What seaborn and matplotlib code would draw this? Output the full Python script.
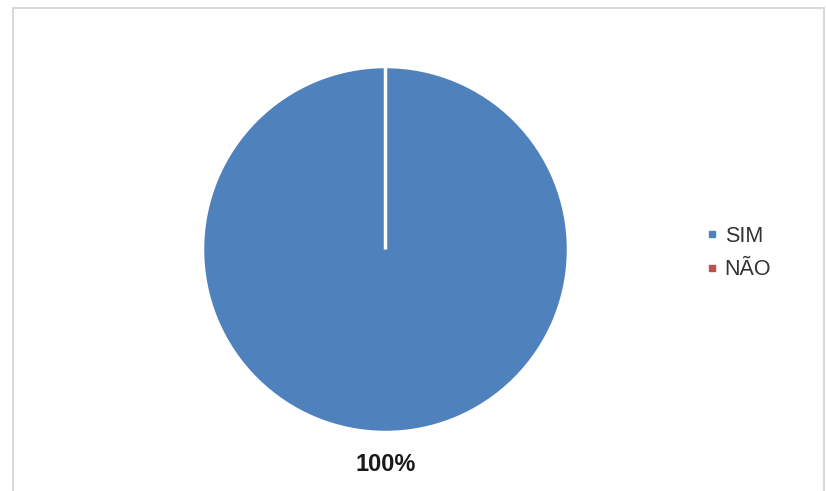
import matplotlib
matplotlib.use("Agg")
import matplotlib.pyplot as plt
from matplotlib.lines import Line2D
from matplotlib.patches import Rectangle
import seaborn as sns

categories = ["SIM", "NÃO"]
values = [100, 0]
colors = ["#4F81BD", "#C0504D"]

sns.set_style("white")
plt.rcParams["font.family"] = ["Liberation Sans", "DejaVu Sans"]
palette = sns.color_palette(colors)

W, H = 826, 491
fig = plt.figure(figsize=(W / 100, H / 100), dpi=100)

# chart area frame
fig.patches.append(Rectangle((13 / W, -0.05), (824 - 13) / W, (H - 8) / H + 0.05,
                             transform=fig.transFigure, fill=False,
                             edgecolor="#D9D9D9", linewidth=1.5))

cx, cy, r = 385.5, 249.5, 183
ax = fig.add_axes([(cx - r) / W, (H - cy - r) / H, 2 * r / W, 2 * r / H])
ax.pie(values, colors=palette, startangle=90, counterclock=False,
       wedgeprops=dict(edgecolor="white", linewidth=2.5),
       autopct=lambda p: f"{p:.0f}%" if p > 0 else "",
       pctdistance=1.175,
       textprops=dict(fontsize=17, fontweight="bold", color="#1a1a1a"))
ax.set_xlim(-1, 1)
ax.set_ylim(-1, 1)
ax.set_aspect("equal")
ax.axis("off")

handles = [Line2D([0], [0], marker="s", linestyle="none", markersize=5,
                  markerfacecolor=c, markeredgecolor=c) for c in palette]
fig.legend(handles, categories, loc="center left",
           bbox_to_anchor=(686 / W, 1 - 253 / H), frameon=False,
           fontsize=15.5, handlelength=0.6, handletextpad=0.3,
           labelspacing=0.6, labelcolor="#333333")

fig.savefig("out.png", dpi=100)
